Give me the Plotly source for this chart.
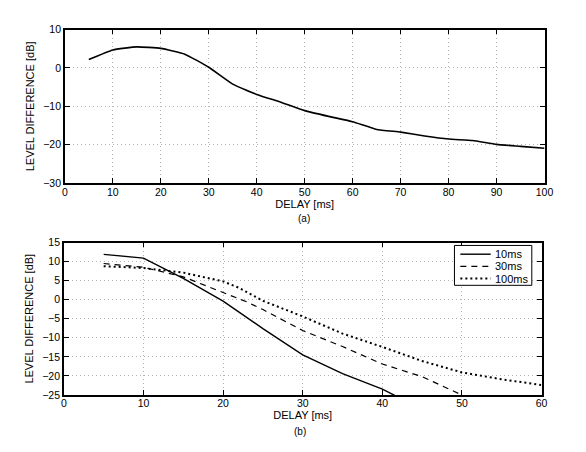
import plotly.graph_objects as go

# (a) level difference vs delay
delay_a = [5, 10, 15, 20, 25, 30, 35, 40, 45, 50, 55, 60, 65, 70, 75, 80, 85, 90, 95, 100]
level_a = [2.2, 4.7, 5.5, 5.1, 3.6, 0.2, -4.2, -6.9, -8.9, -11.1, -12.6, -14.0, -16.0,
           -16.7, -17.7, -18.5, -18.9, -19.9, -20.4, -20.9]

# (b) three window lengths
delay_10 = [5, 10, 15, 20, 23, 25, 30, 35, 40, 42]
level_10 = [11.9, 10.9, 5.6, -0.4, -4.7, -7.6, -14.5, -19.4, -23.5, -25.6]
delay_30 = [5, 10, 15, 20, 23, 25, 30, 35, 40, 45, 49, 51]
level_30 = [9.5, 8.5, 6.0, 2.0, -0.6, -2.6, -8.1, -12.3, -16.9, -20.2, -24.2, -26.0]
delay_100 = [5, 10, 15, 20, 22, 25, 30, 35, 40, 45, 50, 55, 60]
level_100 = [8.8, 8.3, 7.1, 4.8, 3.1, -0.3, -4.4, -8.9, -12.4, -16.1, -19.1, -20.9, -22.4]

names_b = ["10ms", "30ms", "100ms"]
dashes_b = ["solid", "6px,5px", "2px,3px"]
widths_b = [1.4, 1.2, 2]

# page body keeps its 8px margin, so the figure is 16px smaller than the window
W, H = 570, 436

fig = go.Figure()

fig.add_trace(go.Scatter(x=delay_a, y=level_a, mode="lines", showlegend=False,
                         line=dict(color="black", width=1.6, shape="spline", smoothing=0.4),
                         xaxis="x", yaxis="y"))

series_b = [(delay_10, level_10), (delay_30, level_30), (delay_100, level_100)]
for (xs, ys), nm, ds, lw in zip(series_b, names_b, dashes_b, widths_b):
    fig.add_trace(go.Scatter(x=xs, y=ys, mode="lines", name=nm, showlegend=False,
                             line=dict(color="black", width=lw, dash=ds),
                             xaxis="x2", yaxis="y2"))

axis_common = dict(
    showline=True, linecolor="black", linewidth=1.5, mirror="ticks",
    ticks="inside", ticklen=5, tickcolor="black", tickwidth=1.2,
    showgrid=True, gridcolor="#b4b4b4", griddash="1px,3px", gridwidth=1,
    zeroline=False, tickfont=dict(size=10.5, color="black"),
)
xaxis_extra = dict(ticklabelstandoff=-2)

# legend box drawn by hand, matlab style (box, line sample, label)
lx0, lx1, ly0, ly1 = 453, 532, 238, 279
shapes = [dict(type="rect", xref="paper", yref="paper",
               x0=lx0 / W, x1=lx1 / W, y0=1 - ly0 / H, y1=1 - ly1 / H,
               line=dict(color="black", width=1), fillcolor="white", layer="above")]
annotations = []
for i, (nm, ds, lw) in enumerate(zip(names_b, dashes_b, widths_b)):
    yy = 1 - (247 + 12.5 * i) / H
    shapes.append(dict(type="line", xref="paper", yref="paper",
                       x0=459 / W, x1=490 / W, y0=yy, y1=yy, layer="above",
                       line=dict(color="black", width=lw, dash=ds)))
    annotations.append(dict(text=nm, x=492 / W, y=yy, xref="paper", yref="paper",
                            xanchor="left", yanchor="middle", showarrow=False,
                            font=dict(size=11)))

annotations += [
    dict(text="(a)", x=299 / W, y=1 - 210 / H, xref="paper", yref="paper",
         yanchor="middle", showarrow=False, font=dict(size=10)),
    dict(text="(b)", x=295 / W, y=1 - 429 / H, xref="paper", yref="paper",
         yanchor="middle", showarrow=False, font=dict(size=10)),
]

fig.update_layout(
    width=W, height=H,
    margin=dict(l=0, r=0, t=0, b=0),
    paper_bgcolor="white", plot_bgcolor="white",
    font=dict(family="Liberation Sans, Arial, sans-serif", size=11, color="black"),
    showlegend=False,
    xaxis=dict(domain=[55 / W, 545 / W], range=[0, 100], dtick=10, anchor="y",
               title=dict(text="DELAY [ms]", standoff=0, font=dict(size=11)),
               **axis_common, **xaxis_extra),
    yaxis=dict(domain=[1 - 174 / H, 1 - 16 / H], range=[-30, 10], dtick=10, anchor="x",
               title=dict(text="LEVEL DIFFERENCE [dB]", standoff=6, font=dict(size=11)),
               **axis_common),
    xaxis2=dict(domain=[54 / W, 542 / W], range=[0, 60], dtick=10, anchor="y2",
                title=dict(text="DELAY [ms]", standoff=0, font=dict(size=11)),
                **axis_common, **xaxis_extra),
    yaxis2=dict(domain=[1 - 391.7 / H, 1 - 235 / H], range=[-25, 15], dtick=5, anchor="x2",
                title=dict(text="LEVEL DIFFERENCE [dB]", standoff=6, font=dict(size=11)),
                **axis_common),
    shapes=shapes,
    annotations=annotations,
)

fig.write_html("out.html")
